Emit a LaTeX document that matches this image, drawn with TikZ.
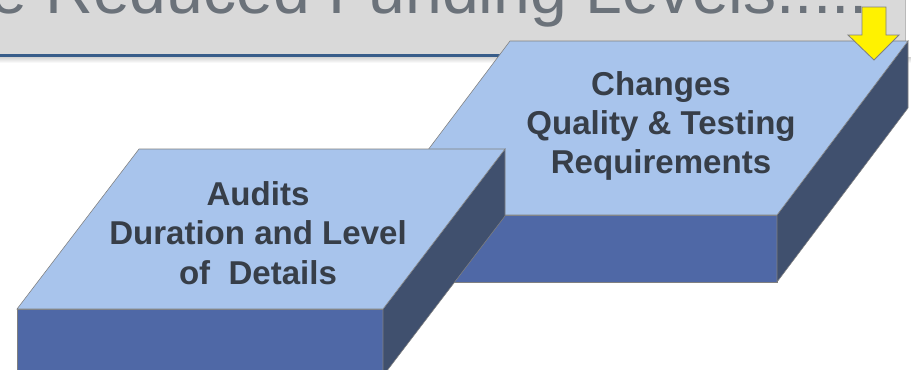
\documentclass[tikz,border=0pt]{standalone}
\usepackage{fontspec}
\setmainfont{Liberation Sans}
\definecolor{bandgray}{RGB}{217,217,217}
\definecolor{titlegray}{RGB}{107,114,122}
\definecolor{headerblue}{RGB}{56,93,138}
\definecolor{slabtop}{RGB}{168,196,236}
\definecolor{slabfront}{RGB}{79,104,166}
\definecolor{slabside}{RGB}{64,80,110}
\definecolor{slabedge}{RGB}{128,128,128}
\definecolor{labelgray}{RGB}{55,62,72}

\begin{document}
\begin{tikzpicture}[x=0.025cm, y=-0.025cm]
\tikzset{topface/.style = {fill=slabtop, draw=slabedge, line width=.4pt}}
\tikzset{frontface/.style = {fill=slabfront, draw=slabedge, line width=.4pt}}
\tikzset{sideface/.style = {fill=slabside, draw=slabedge, line width=.4pt}}
\tikzset{slabtext/.style = {align=center, text=labelgray, inner sep=0,
  font=\fontsize{23.5}{28}\selectfont\bfseries}}

\useasboundingbox (0,0) rectangle (911,369);
\clip (0,0) rectangle (911,369);

% header
\fill[bandgray] (-5,-5) rectangle (905,54);
\draw[gray!55] (905,-5) -- (905,54);
\node[anchor=base west, text=titlegray, inner sep=0,
  font=\fontsize{47}{56}\selectfont] (title) at (-65,13) {the Reduced Funding Levels.....};
\shade[top color=gray!35, bottom color=white] (0,57) rectangle (911,63);
\draw[headerblue, line width=2.5pt] (0,55.5) -- (600,55.5);

% slabs: front left / front right / top / bottom / slant
\foreach \l/\r/\t/\b/\s in {379/777/41/215/131, 17/383/149/309/122}
{
  \draw[frontface] (\l,\b) rectangle (\r,\b+67);
  \draw[sideface] (\r,\b) -- ({\r+\s},\t) -- ({\r+\s},\t+67) -- (\r,\b+67) -- cycle;
  \draw[topface] (\l,\b) -- (\r,\b) -- ({\r+\s},\t) -- ({\l+\s},\t) -- cycle;
}

\node[slabtext] (changes) at (661,126) {Changes\\Quality \& Testing\\Requirements};
\node[slabtext] (audits) at (258,233) {Audits\\Duration and Level\\of~ Details};

% yellow arrow
\draw[fill=yellow, draw=gray, line width=.6pt]
  (862,7) -- (886,7) -- (886,35) -- (899,35) -- (874,60) -- (848,35) -- (862,35) -- cycle;

\end{tikzpicture}
\end{document}
